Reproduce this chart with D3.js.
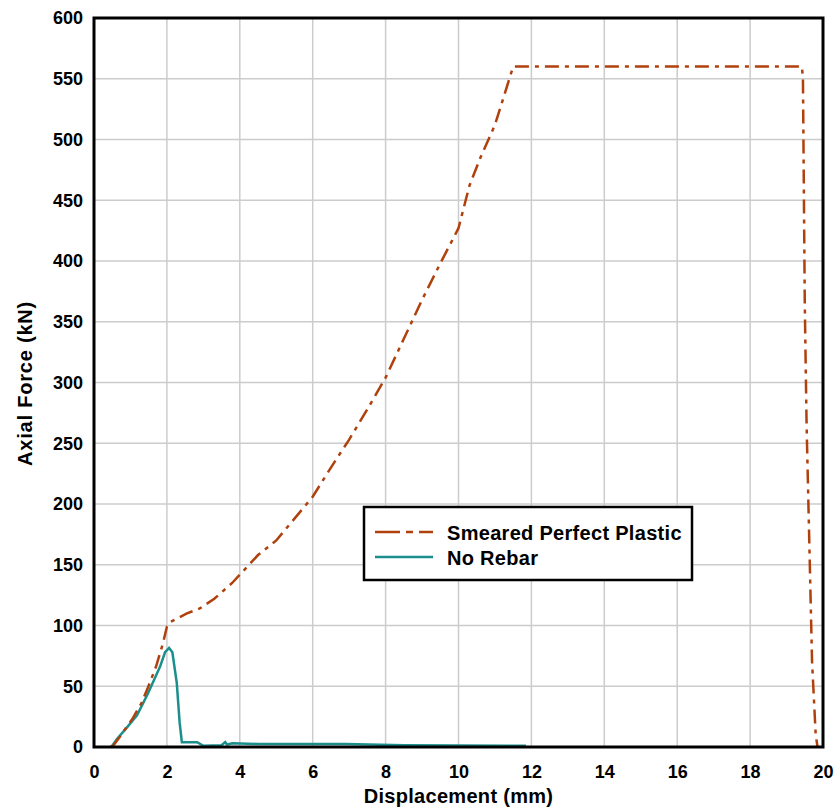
<!DOCTYPE html>
<html lang="en">
<head>
<meta charset="UTF-8">
<title>Axial Force vs Displacement</title>
<style>
  body { margin: 0; background: #fff; }
  text { font-family: "Liberation Sans", Arial, sans-serif; font-weight: bold; }
</style>
</head>
<body>
<script src="https://d3js.org/d3.v7.min.js"></script>
<script>
// Smeared Perfect Plastic
const smearedX = [0.5, 0.7, 1.07, 1.3, 1.48, 1.7, 1.89, 2.0, 2.1, 2.55, 2.9, 3.3, 3.79, 4.5, 5.0, 5.5, 6.0, 6.5, 7.0, 7.5, 8.0, 8.5, 9.0, 9.5, 10.0, 10.3, 10.6, 11.0, 11.5, 19.42, 19.45, 19.5, 19.55, 19.6, 19.7, 19.8, 19.85];
const smearedY = [0, 8, 24, 36, 49, 66, 85, 99, 103, 110, 114, 122, 135, 158, 170, 188, 206, 230, 253, 278, 304, 336, 368, 398, 427, 462, 485, 512, 560, 560, 550, 365, 265, 200, 70, 10, 0];

// No Rebar
const noRebarX = [0.45, 0.5, 0.63, 0.9, 1.18, 1.48, 1.81, 1.95, 2.06, 2.15, 2.27, 2.35, 2.41, 2.83, 3.0, 3.5, 3.6, 3.65, 3.8, 4.5, 6.9, 8.5, 10.0, 11.85];
const noRebarY = [0, 1, 6.6, 16, 26, 44, 66, 78, 81.5, 78, 53, 20, 4, 4, 1, 1.5, 4, 2, 3, 2.5, 2.5, 1.5, 1.2, 1];

const xTicks = [0, 2, 4, 6, 8, 10, 12, 14, 16, 18, 20];
const yTicks = [0, 50, 100, 150, 200, 250, 300, 350, 400, 450, 500, 550, 600];

const seriesNames = ['Smeared Perfect Plastic', 'No Rebar'];
const seriesColors = ['#b0400c', '#1b8f8c'];

const width = 836, height = 809;
const margin = { top: 18, right: 13, bottom: 62, left: 94 };

const svg = d3.select('body').append('svg')
  .attr('width', width)
  .attr('height', height);

const xScale = d3.scaleLinear().domain([0, 20]).range([margin.left, width - margin.right]);
const yScale = d3.scaleLinear().domain([0, 600]).range([height - margin.bottom, margin.top]);

// Grid lines
svg.append('g')
  .selectAll('line.vgrid')
  .data(xTicks.slice(1, -1))
  .enter().append('line')
  .attr('x1', d => xScale(d)).attr('x2', d => xScale(d))
  .attr('y1', yScale(0)).attr('y2', yScale(600))
  .attr('stroke', '#cccccc').attr('stroke-width', 1.5);

svg.append('g')
  .selectAll('line.hgrid')
  .data(yTicks.slice(1, -1))
  .enter().append('line')
  .attr('x1', xScale(0)).attr('x2', xScale(20))
  .attr('y1', d => yScale(d)).attr('y2', d => yScale(d))
  .attr('stroke', '#cccccc').attr('stroke-width', 1.5);

// Axes (tick labels only)
const xAxis = svg.append('g')
  .attr('transform', `translate(0, ${yScale(0)})`)
  .call(d3.axisBottom(xScale).tickValues(xTicks).tickSize(0).tickPadding(18));
const yAxis = svg.append('g')
  .attr('transform', `translate(${xScale(0)}, 0)`)
  .call(d3.axisLeft(yScale).tickValues(yTicks).tickSize(0).tickPadding(11));

[xAxis, yAxis].forEach(ax => {
  ax.select('.domain').remove();
  ax.selectAll('text')
    .attr('fill', '#000')
    .style('font-size', '18px')
    .style('font-family', '"Liberation Sans", Arial, sans-serif')
    .style('font-weight', 'bold');
});

// Lines
const line = d3.line()
  .x(d => xScale(d[0]))
  .y(d => yScale(d[1]));

const smeared = smearedX.map((x, i) => [x, smearedY[i]]);
const noRebar = noRebarX.map((x, i) => [x, noRebarY[i]]);

svg.append('path')
  .datum(noRebar)
  .attr('d', line)
  .attr('fill', 'none')
  .attr('stroke', seriesColors[1])
  .attr('stroke-width', 2.5);

svg.append('path')
  .datum(smeared)
  .attr('d', line)
  .attr('fill', 'none')
  .attr('stroke', seriesColors[0])
  .attr('stroke-width', 2.5)
  .attr('stroke-dasharray', '14,6,4,6');

// Plot frame
svg.append('rect')
  .attr('x', xScale(0)).attr('y', yScale(600))
  .attr('width', xScale(20) - xScale(0))
  .attr('height', yScale(0) - yScale(600))
  .attr('fill', 'none')
  .attr('stroke', '#000')
  .attr('stroke-width', 3);

// Axis titles
svg.append('text')
  .attr('x', (xScale(0) + xScale(20)) / 2)
  .attr('y', 803)
  .attr('text-anchor', 'middle')
  .style('font-size', '20px')
  .style('letter-spacing', '0.3px')
  .text('Displacement (mm)');

svg.append('text')
  .attr('transform', `translate(32, ${(yScale(0) + yScale(600)) / 2 + 1}) rotate(-90)`)
  .attr('text-anchor', 'middle')
  .style('font-size', '20px')
  .style('letter-spacing', '0.8px')
  .text('Axial Force (kN)');

// Legend
const legend = svg.append('g').attr('transform', 'translate(364, 507)');
legend.append('rect')
  .attr('width', 328).attr('height', 73)
  .attr('fill', '#fff')
  .attr('stroke', '#000')
  .attr('stroke-width', 2.5);

seriesNames.forEach((name, i) => {
  const y = 25 + i * 25;
  legend.append('line')
    .attr('x1', 11).attr('x2', 69)
    .attr('y1', y).attr('y2', y)
    .attr('stroke', seriesColors[i])
    .attr('stroke-width', 2.5)
    .attr('stroke-dasharray', i === 0 ? '25,6,7,6' : null);
  legend.append('text')
    .attr('x', 83).attr('y', y + 8)
    .style('font-size', '20px')
    .style('letter-spacing', '0.3px')
    .text(name);
});
</script>
</body>
</html>
